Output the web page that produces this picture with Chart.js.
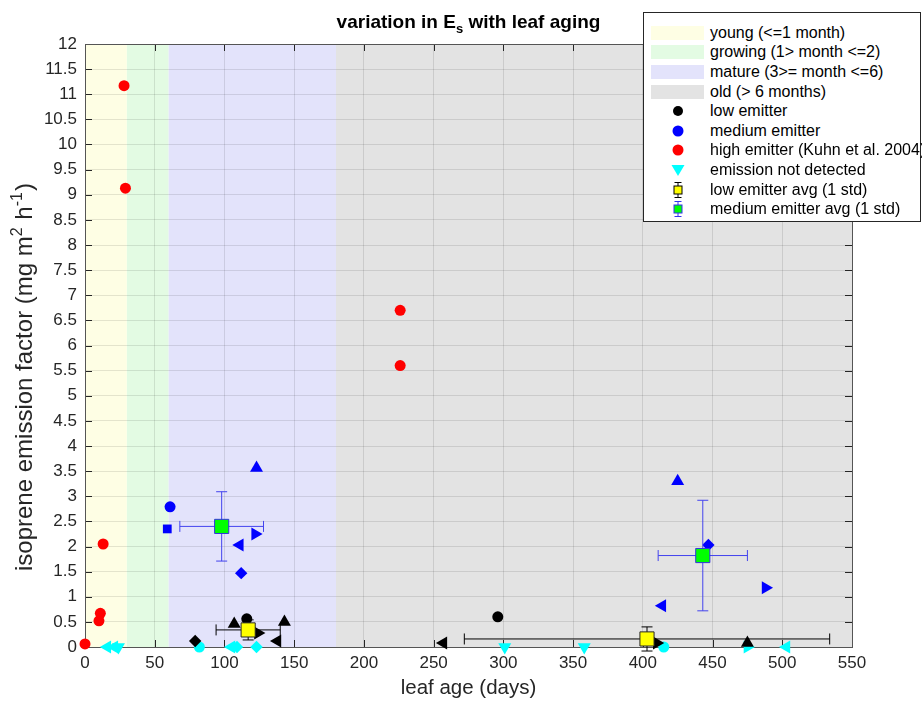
<!DOCTYPE html>
<html>
<head>
<meta charset="utf-8">
<script src="https://cdn.jsdelivr.net/npm/chart.js@4.4.0/dist/chart.umd.min.js"></script>
<style>
  html, body { margin: 0; padding: 0; background: #fff; }
  #wrap { position: relative; width: 922px; height: 701px; }
  #legend {
    position: absolute; left: 643px; top: 12px; width: 276px; height: 208px;
    border: 1px solid #262626; background: #fff;
    font: 16px "Liberation Sans", Arial, sans-serif; color: #000;
  }
  .row { position: absolute; left: 0; width: 276px; height: 20px; }
  .row span { position: absolute; left: 66px; top: 0; line-height: 20px; white-space: nowrap; }
  .patch { position: absolute; left: 7px; top: 3px; width: 53px; height: 14px; }
  .row svg { position: absolute; left: 24px; top: 0; }
</style>
</head>
<body>
<div id="wrap">
  <canvas id="chart" width="922" height="701"></canvas>
  <div id="legend"></div>
</div>
<script>
const xTicks = [0, 50, 100, 150, 200, 250, 300, 350, 400, 450, 500, 550];
const yTicks = [0, 0.5, 1, 1.5, 2, 2.5, 3, 3.5, 4, 4.5, 5, 5.5, 6, 6.5, 7, 7.5, 8, 8.5, 9, 9.5, 10, 10.5, 11, 11.5, 12];

const titleMain = "variation in E";
const titleSub = "s";
const titleRest = " with leaf aging";
const xTitle = "leaf age (days)";
// y label pieces: [text, superscript?]
const yTitleParts = [["isoprene emission factor (mg m", false], ["2", true], [" h", false], ["-1", true], [")", false]];

// leaf age stages (days)
const bandLabels = ["young (<=1 month)", "growing (1> month <=2)", "mature (3>= month <=6)", "old (> 6 months)"];
const bandEdges = [0, 30, 60, 180, 550];

// low emitter
const lowX = [79, 107, 116, 124, 138, 143, 257, 296, 410, 475];
const lowY = [0.12, 0.46, 0.56, 0.28, 0.12, 0.5, 0.08, 0.6, 0.08, 0.08];
// medium emitter
const medX = [61, 59, 123, 122, 111, 112, 425, 447, 488, 414];
const medY = [2.79, 2.35, 3.56, 2.25, 2.03, 1.47, 3.3, 2.03, 1.18, 0.82];
// high emitter (Kuhn et al. 2004)
const highX = [0, 10, 11, 13, 28, 29, 226, 226];
const highY = [0.06, 0.52, 0.67, 2.05, 11.17, 9.13, 6.7, 5.6];
// emission not detected
const ndX = [16, 21, 24, 82, 105, 109, 123, 301, 358, 415, 475, 503];
const ndY = [0, 0, 0, 0, 0, 0, 0, 0, 0, 0, 0, 0];
// averages with 1 std
const lowAvgX = [117, 403];
const lowAvgY = [0.34, 0.16];
const lowAvgXErr = [23, 131];
const lowAvgYErr = [0.2, 0.24];
const medAvgX = [98, 443];
const medAvgY = [2.4, 1.82];
const medAvgXErr = [30, 32];
const medAvgYErr = [0.69, 1.1];

const legendLabels = ["low emitter", "medium emitter", "high emitter (Kuhn et al. 2004)",
  "emission not detected", "low emitter avg (1 std)", "medium emitter avg (1 std)"];

// marker styles
const bandColors = ["#fefee4", "#e3fbe3", "#e3e3fb", "#e3e3e3"];
const lowShapes = ["rectRot", "triangle", "circle", "R", "L", "triangle", "L", "circle", "R", "triangle"];
const medShapes = ["circle", "rect", "triangle", "R", "L", "rectRot", "triangle", "rectRot", "R", "L"];
const ndShapes = ["L", "L", "D", "circle", "L", "rectRot", "rectRot", "D", "D", "circle", "R", "L"];

const toPts = (xs, ys) => xs.map((x, i) => ({ x: x, y: ys[i] }));
const styleOf = s => (s === "L" || s === "R" || s === "D") ? "triangle" : s;
const rotOf = s => s === "L" ? -90 : s === "R" ? 90 : s === "D" ? 180 : 0;
const sizeOf = s => s === "circle" ? 5.5 : s === "rect" ? 6.2 : s === "rectRot" ? 6.2 : 7.5;

function shapeSet(label, xs, ys, shapes, color, order) {
  return {
    label: label,
    data: toPts(xs, ys),
    backgroundColor: color,
    borderColor: color,
    borderWidth: 0,
    pointStyle: shapes.map(styleOf),
    rotation: shapes.map(rotOf),
    pointRadius: shapes.map(sizeOf),
    pointHoverRadius: shapes.map(sizeOf),
    clip: false,
    order: order
  };
}

const font = '"Liberation Sans", Arial, sans-serif';
Chart.defaults.font.family = font;
Chart.defaults.color = "#262626";

const bandsPlugin = {
  id: "bands",
  beforeDraw(chart) {
    const { ctx, chartArea } = chart;
    const xs = chart.scales.x;
    ctx.save();
    for (let i = 0; i < bandColors.length; i++) {
      const a = xs.getPixelForValue(bandEdges[i]);
      const b = xs.getPixelForValue(bandEdges[i + 1]);
      ctx.fillStyle = bandColors[i];
      ctx.fillRect(a, chartArea.top, b - a, chartArea.bottom - chartArea.top);
    }
    ctx.restore();
  }
};

const boxPlugin = {
  id: "box",
  beforeDatasetsDraw(chart) {
    const { ctx, chartArea: ca } = chart;
    const xs = chart.scales.x, ys = chart.scales.y;
    const t = 7;
    ctx.save();
    ctx.strokeStyle = "#262626";
    ctx.lineWidth = 1;
    ctx.beginPath();
    xTicks.forEach(v => {
      const p = Math.round(xs.getPixelForValue(v)) + 0.5;
      ctx.moveTo(p, ca.bottom); ctx.lineTo(p, ca.bottom - t);
      ctx.moveTo(p, ca.top); ctx.lineTo(p, ca.top + t);
    });
    yTicks.forEach(v => {
      const p = Math.round(ys.getPixelForValue(v)) + 0.5;
      ctx.moveTo(ca.left, p); ctx.lineTo(ca.left + t, p);
      ctx.moveTo(ca.right, p); ctx.lineTo(ca.right - t, p);
    });
    ctx.stroke();
    ctx.strokeStyle = "#555";
    ctx.strokeRect(Math.round(ca.left) + 0.5, Math.round(ca.top) + 0.5,
      Math.round(ca.right - ca.left), Math.round(ca.bottom - ca.top));
    ctx.restore();
  }
};

const errorPlugin = {
  id: "errbars",
  beforeDatasetDraw(chart, args) {
    const ds = chart.data.datasets[args.index];
    if (!ds.xErr) return;
    const { ctx } = chart;
    const xs = chart.scales.x, ys = chart.scales.y;
    const cap = 5.5;
    ctx.save();
    ctx.strokeStyle = ds.errColor;
    ctx.lineWidth = 1;
    ctx.beginPath();
    ds.data.forEach((p, i) => {
      const cx = xs.getPixelForValue(p.x), cy = ys.getPixelForValue(p.y);
      const x0 = xs.getPixelForValue(p.x - ds.xErr[i]), x1 = xs.getPixelForValue(p.x + ds.xErr[i]);
      const y0 = ys.getPixelForValue(p.y - ds.yErr[i]), y1 = ys.getPixelForValue(p.y + ds.yErr[i]);
      ctx.moveTo(x0, cy); ctx.lineTo(x1, cy);
      ctx.moveTo(x0, cy - cap); ctx.lineTo(x0, cy + cap);
      ctx.moveTo(x1, cy - cap); ctx.lineTo(x1, cy + cap);
      ctx.moveTo(cx, y0); ctx.lineTo(cx, y1);
      ctx.moveTo(cx - cap, y0); ctx.lineTo(cx + cap, y0);
      ctx.moveTo(cx - cap, y1); ctx.lineTo(cx + cap, y1);
    });
    ctx.stroke();
    ctx.restore();
  }
};

const titlePlugin = {
  id: "texts",
  afterDraw(chart) {
    const { ctx, chartArea: ca } = chart;
    ctx.save();
    // chart title with subscript
    const big = "bold 19px " + font, small = "bold 13px " + font;
    ctx.font = big;
    const w1 = ctx.measureText(titleMain).width;
    const w3 = ctx.measureText(titleRest).width;
    ctx.font = small;
    const w2 = ctx.measureText(titleSub).width;
    let x = (ca.left + ca.right) / 2 - (w1 + w2 + w3) / 2;
    const base = 28;
    ctx.fillStyle = "#000";
    ctx.textBaseline = "alphabetic";
    ctx.font = big; ctx.fillText(titleMain, x, base); x += w1;
    ctx.font = small; ctx.fillText(titleSub, x, base + 5); x += w2;
    ctx.font = big; ctx.fillText(titleRest, x, base);
    // rotated y label with superscripts
    ctx.fillStyle = "#262626";
    ctx.translate(32, 571);
    ctx.rotate(-Math.PI / 2);
    let pos = 0;
    yTitleParts.forEach(([txt, sup]) => {
      ctx.font = (sup ? "16px " : "24px ") + font;
      ctx.fillText(txt, pos, sup ? -10 : 0);
      pos += ctx.measureText(txt).width + (sup ? 1 : 0);
    });
    ctx.restore();
  }
};

const datasets = [
  {
    label: legendLabels[4], data: toPts(lowAvgX, lowAvgY), xErr: lowAvgXErr, yErr: lowAvgYErr,
    errColor: "#000", backgroundColor: "#ffff00", borderColor: "#262626", borderWidth: 1,
    pointStyle: "rect", pointRadius: 10, pointHoverRadius: 10, clip: false, order: 0
  },
  {
    label: legendLabels[5], data: toPts(medAvgX, medAvgY), xErr: medAvgXErr, yErr: medAvgYErr,
    errColor: "#4343ee", backgroundColor: "#00ff00", borderColor: "#3333dd", borderWidth: 1,
    pointStyle: "rect", pointRadius: 10, pointHoverRadius: 10, clip: false, order: 0
  },
  shapeSet(legendLabels[0], lowX, lowY, lowShapes, "#000000", 2),
  shapeSet(legendLabels[1], medX, medY, medShapes, "#0000ff", 2),
  {
    label: legendLabels[2], data: toPts(highX, highY), backgroundColor: "#ff0000", borderWidth: 0,
    pointStyle: "circle", pointRadius: 5.5, pointHoverRadius: 5.5, clip: false, order: 2
  },
  shapeSet(legendLabels[3], ndX, ndY, ndShapes, "#00ffff", 3)
];

new Chart(document.getElementById("chart"), {
  type: "scatter",
  data: { datasets: datasets },
  plugins: [bandsPlugin, boxPlugin, errorPlugin, titlePlugin],
  options: {
    responsive: false,
    animation: false,
    events: [],
    layout: { padding: { top: 44, right: 70, left: 0, bottom: 0 } },
    plugins: { legend: { display: false }, tooltip: { enabled: false } },
    scales: {
      x: {
        type: "linear", min: 0, max: 550,
        afterBuildTicks: s => { s.ticks = xTicks.map(v => ({ value: v })); },
        afterFit: s => { s.height = 54; },
        ticks: { font: { size: 17 }, padding: 6, maxRotation: 0, callback: v => String(v) },
        grid: { color: "rgba(0,0,0,0.1)", drawTicks: false },
        border: { display: false },
        title: { display: true, text: xTitle, font: { size: 20.5 }, padding: { top: 0, bottom: 0 } }
      },
      y: {
        type: "linear", min: 0, max: 12,
        afterBuildTicks: s => { s.ticks = yTicks.map(v => ({ value: v })); },
        afterFit: s => { s.width = 85; },
        ticks: { font: { size: 17 }, padding: 8, autoSkip: false, callback: v => String(v) },
        grid: { color: "rgba(0,0,0,0.1)", drawTicks: false },
        border: { display: false },
        title: { display: false }
      }
    }
  }
});

// legend overlay
const legendEl = document.getElementById("legend");
const markerSvg = [
  '<circle cx="10" cy="10" r="5" fill="#000"/>',
  '<circle cx="10" cy="10" r="5.5" fill="#0000ff"/>',
  '<circle cx="10" cy="10" r="5.5" fill="#ff0000"/>',
  '<polygon points="3.5,5 16.5,5 10,16" fill="#00ffff"/>',
  '<g stroke="#000" stroke-width="1"><line x1="10" y1="2.5" x2="10" y2="17.5"/><line x1="6.5" y1="2.5" x2="13.5" y2="2.5"/><line x1="6.5" y1="17.5" x2="13.5" y2="17.5"/><rect x="6" y="6" width="8" height="8" fill="#ffff00"/></g>',
  '<g stroke="#3333ee" stroke-width="1"><line x1="10" y1="2.5" x2="10" y2="17.5"/><line x1="6.5" y1="2.5" x2="13.5" y2="2.5"/><line x1="6.5" y1="17.5" x2="13.5" y2="17.5"/><rect x="6" y="6" width="8" height="8" fill="#00ff00"/></g>'
];
const rowTop = i => 9.7 + i * 19.6;
bandLabels.forEach((lab, i) => {
  const r = document.createElement("div");
  r.className = "row";
  r.style.top = rowTop(i) + "px";
  r.innerHTML = '<div class="patch" style="background:' + bandColors[i] + '"></div><span></span>';
  r.querySelector("span").textContent = lab;
  legendEl.appendChild(r);
});
legendLabels.forEach((lab, i) => {
  const r = document.createElement("div");
  r.className = "row";
  r.style.top = rowTop(i + 4) + "px";
  r.innerHTML = '<svg width="20" height="20">' + markerSvg[i] + '</svg><span></span>';
  r.querySelector("span").textContent = lab;
  legendEl.appendChild(r);
});
</script>
</body>
</html>
